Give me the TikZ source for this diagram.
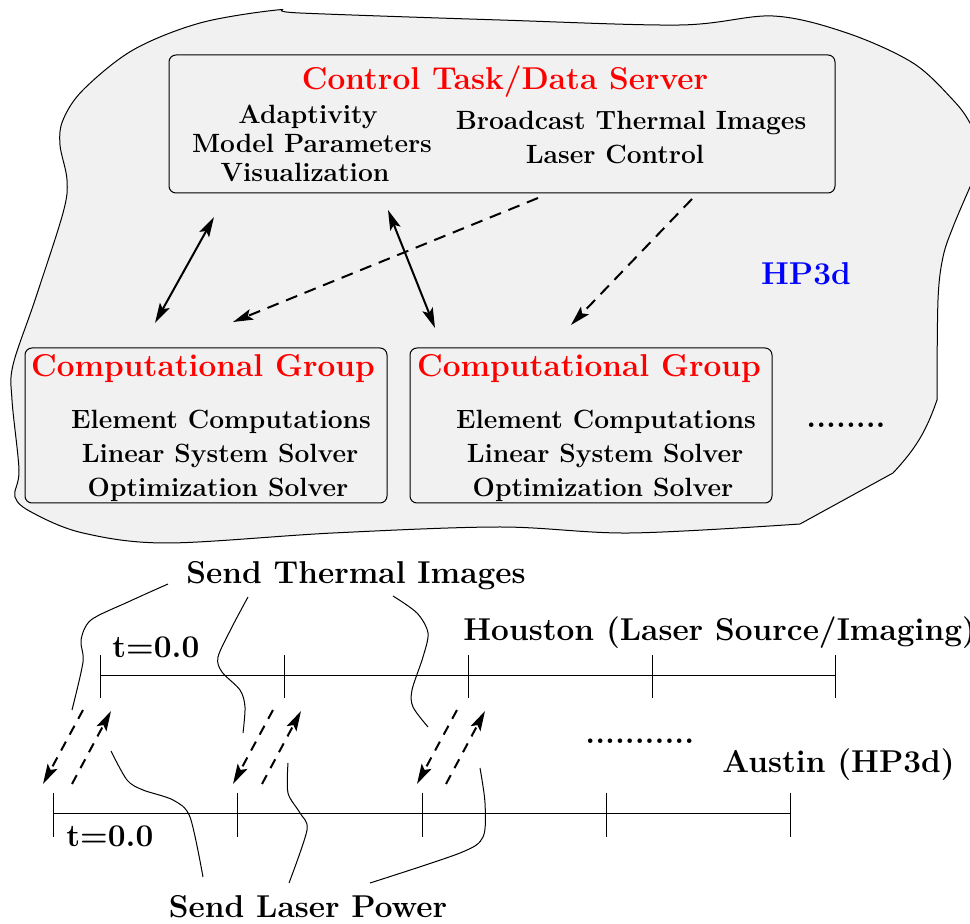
\documentclass[tikz,border=0pt]{standalone}
\usetikzlibrary{arrows.meta}
\definecolor{panelgray}{RGB}{241,241,241}
\begin{document}
\begin{tikzpicture}[x=0.5pt,y=-0.5pt,
  outline/.style={line width=0.5pt},
  panel/.style={draw, line width=0.5pt, rounded corners=3.5pt, fill=panelgray, inner sep=0pt},
  headred/.style={text=red, font=\fontsize{15.8}{18}\selectfont\bfseries, inner sep=0pt, anchor=base},
  boxtext/.style={font=\fontsize{13.2}{15}\selectfont\bfseries, inner sep=0pt, anchor=base},
  bigtext/.style={font=\fontsize{15.8}{18}\selectfont\bfseries, inner sep=0pt, anchor=base},
  tip/.tip={Stealth[length=10pt,width=5.5pt,inset=2pt]},
  link/.style={line width=1pt, tip-tip},
  feed/.style={line width=1pt, dash pattern=on 6pt off 4pt, -tip},
  signal/.style={line width=1pt, dash pattern=on 5pt off 4pt, -tip},
  leader/.style={line width=0.5pt},
  timeline/.style={line width=0.5pt}]
\useasboundingbox (0,0) rectangle (970,924);

% ---------- HP3d cluster outline ----------
\draw[outline, fill=panelgray]
  (937,400) -- plot[smooth, tension=0.55] coordinates {
    (937,400) (938,300) (943,257) (953,227) (970,187) (984,155) (970,123)
    (953,100) (913,63) (847,33) (773,16) (680,25) (500,20) (300,13) (277,10)
    (200,23) (133,50) (83,90) (63,120) (60,145) (67,180) (63,213) (35,300)
    (13,365) (12,400) (19,470) (15,497) (33,513) (83,533) (167,543)
    (333,533) (500,527) (630,533) (800,524)}
  -- (893,473) to[bend right=12] (937,400) -- cycle;

% ---------- control task / data server ----------
\node[panel, minimum width=333pt, minimum height=69pt] (ctrl) at (502,124) {};
\node[headred] (ctrlT) at (505,90) {Control Task/Data Server};
\node[boxtext] (c1) at (308,124) {Adaptivity};
\node[boxtext] (c2) at (312,153) {Model Parameters};
\node[boxtext] (c3) at (305,182) {Visualization};
\node[boxtext] (c4) at (631,130) {Broadcast Thermal Images};
\node[boxtext] (c5) at (615,164) {Laser Control};

\node[text=blue, font=\fontsize{15.8}{18}\selectfont\bfseries, inner sep=0pt, anchor=base] (hp) at (806,285) {HP3d};

% ---------- computational groups ----------
\node[panel, minimum width=181pt, minimum height=77.5pt] (grpA) at (206,425.5) {};
\node[headred] (gA) at (203,377) {Computational Group};
\node[boxtext] (gA1) at (221,429) {Element Computations};
\node[boxtext] (gA2) at (220,463) {Linear System Solver};
\node[boxtext] (gA3) at (218,497) {Optimization Solver};

\node[panel, minimum width=181pt, minimum height=77.5pt] (grpB) at (591,425.5) {};
\node[headred] (gB) at (589,377) {Computational Group};
\node[boxtext] (gB1) at (606,429) {Element Computations};
\node[boxtext] (gB2) at (605,463) {Linear System Solver};
\node[boxtext] (gB3) at (603,497) {Optimization Solver};

\node[bigtext] (more) at (846,428) {........};

% ---------- links between server and groups ----------
\coordinate (lAa) at (155,323);
\coordinate (lAb) at (214,217);
\coordinate (lBa) at (388,210);
\coordinate (lBb) at (435,328);
\coordinate (fAa) at (538,198);
\coordinate (fAb) at (233,322);
\coordinate (fBa) at (692,199);
\coordinate (fBb) at (571,325);
\draw[link] (lAa) -- (lAb);
\draw[link] (lBa) -- (lBb);
\draw[feed] (fAa) -- (fAb);
\draw[feed] (fBa) -- (fBb);

% ---------- time lines ----------
\coordinate (hL) at (100,676);
\coordinate (hR) at (835,676);
\draw[timeline] (hL) -- (hR);
\foreach \x in {100,284,468,652,835}
  \draw[timeline] (\x,655) -- (\x,698);
\coordinate (aL) at (53,814);
\coordinate (aR) at (790,814);
\draw[timeline] (aL) -- (aR);
\foreach \x in {53,237,422,606,790}
  \draw[timeline] (\x,793) -- (\x,837);

\node[bigtext, anchor=base west] (t0h) at (112,658) {t=0.0};
\node[bigtext, anchor=base west] (t0a) at (66,847) {t=0.0};
\node[bigtext, anchor=base west] (hou) at (463,641) {Houston (Laser Source/Imaging)};
\node[bigtext, anchor=base west] (aus) at (722,773) {Austin (HP3d)};
\node[bigtext, anchor=base west] (dots) at (585,744) {...........};
\node[bigtext] (thermal) at (356,584) {Send Thermal Images};
\node[bigtext] (laser) at (308,917) {Send Laser Power};

% ---------- messages between the sites ----------
\foreach \x/\n in {0/1,190/2,374/3}{
  \coordinate (d\n a) at ({83+\x},710);
  \coordinate (d\n b) at ({43+\x},784);
  \coordinate (u\n a) at ({72+\x},784);
  \coordinate (u\n b) at ({111+\x},711);
  \draw[signal] (d\n a) -- (d\n b);
  \draw[signal] (u\n a) -- (u\n b);
}

% ---------- leaders to the labels ----------
\draw[leader] plot[smooth, tension=0.5] coordinates
  {(168,584) (128,602) (91,620) (81,640) (83,662) (72,710)};
\draw[leader] plot[smooth, tension=0.5] coordinates
  {(248,597) (232,627) (218,657) (222,672) (240,690) (245,707) (243,733)};
\draw[leader] plot[smooth, tension=0.5] coordinates
  {(393,596) (417,613) (428,633) (423,657) (412,690) (413,707) (428,727)};
\draw[leader] plot[smooth, tension=0.5] coordinates
  {(111,751) (127,780) (143,790) (173,800) (190,817) (203,877)};
\draw[leader] plot[smooth, tension=0.5] coordinates
  {(288,763) (288,793) (300,813) (307,830) (289,883)};
\draw[leader] plot[smooth, tension=0.5] coordinates
  {(480,768) (485,803) (483,837) (460,853) (370,883)};
\end{tikzpicture}
\end{document}
